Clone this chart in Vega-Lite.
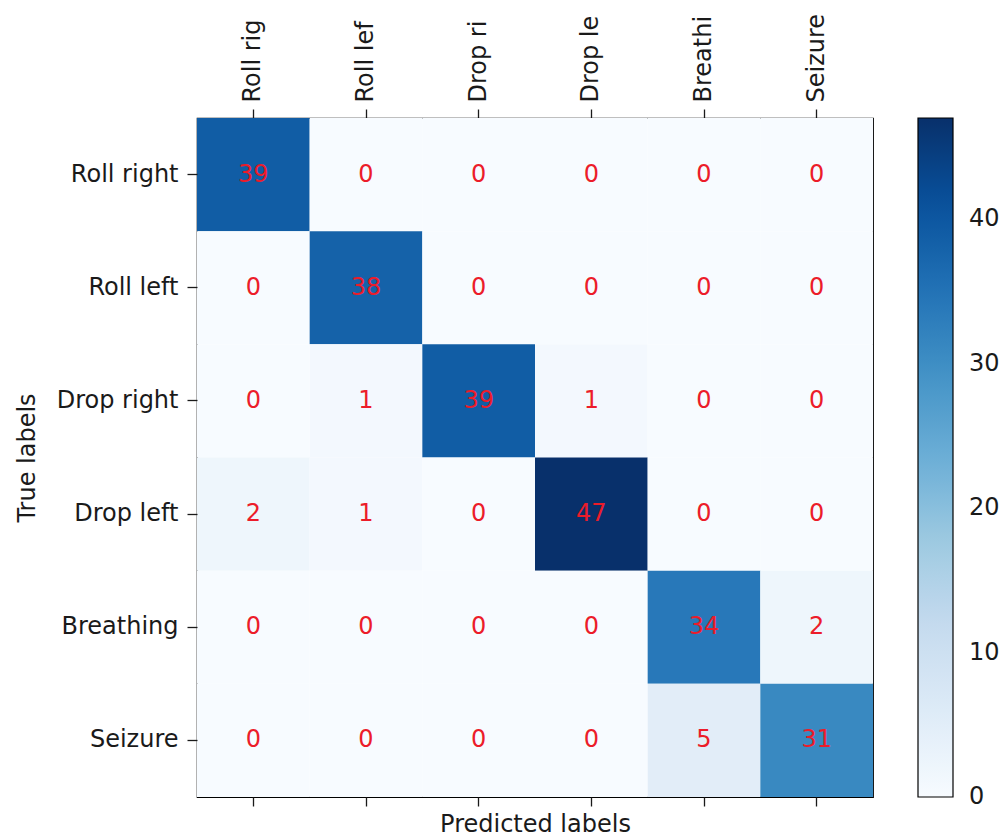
{
  "$schema": "https://vega.github.io/schema/vega-lite/v6.json",
  "autosize": "none",
  "width": 676,
  "height": 679,
  "padding": {"left": 197, "top": 118, "right": 129, "bottom": 40},
  "background": "white",
  "config": {
    "view": {"stroke": "black", "strokeWidth": 1.2},
    "font": "DejaVu Sans",
    "axis": {
      "labelFont": "DejaVu Sans",
      "titleFont": "DejaVu Sans",
      "labelFontSize": 24,
      "titleFontSize": 24,
      "titleFontWeight": "normal",
      "labelColor": "#1a1a1a",
      "titleColor": "#1a1a1a",
      "tickColor": "#1a1a1a",
      "tickSize": 9,
      "tickWidth": 1.3,
      "domain": false,
      "grid": false
    },
    "legend": {
      "labelFont": "DejaVu Sans",
      "labelFontSize": 24,
      "labelColor": "#1a1a1a"
    }
  },
  "data": {
    "values": [
      {"actual": "Roll right", "predicted": "Roll right", "value": 39},
      {"actual": "Roll right", "predicted": "Roll left", "value": 0},
      {"actual": "Roll right", "predicted": "Drop right", "value": 0},
      {"actual": "Roll right", "predicted": "Drop left", "value": 0},
      {"actual": "Roll right", "predicted": "Breathing", "value": 0},
      {"actual": "Roll right", "predicted": "Seizure", "value": 0},
      {"actual": "Roll left", "predicted": "Roll right", "value": 0},
      {"actual": "Roll left", "predicted": "Roll left", "value": 38},
      {"actual": "Roll left", "predicted": "Drop right", "value": 0},
      {"actual": "Roll left", "predicted": "Drop left", "value": 0},
      {"actual": "Roll left", "predicted": "Breathing", "value": 0},
      {"actual": "Roll left", "predicted": "Seizure", "value": 0},
      {"actual": "Drop right", "predicted": "Roll right", "value": 0},
      {"actual": "Drop right", "predicted": "Roll left", "value": 1},
      {"actual": "Drop right", "predicted": "Drop right", "value": 39},
      {"actual": "Drop right", "predicted": "Drop left", "value": 1},
      {"actual": "Drop right", "predicted": "Breathing", "value": 0},
      {"actual": "Drop right", "predicted": "Seizure", "value": 0},
      {"actual": "Drop left", "predicted": "Roll right", "value": 2},
      {"actual": "Drop left", "predicted": "Roll left", "value": 1},
      {"actual": "Drop left", "predicted": "Drop right", "value": 0},
      {"actual": "Drop left", "predicted": "Drop left", "value": 47},
      {"actual": "Drop left", "predicted": "Breathing", "value": 0},
      {"actual": "Drop left", "predicted": "Seizure", "value": 0},
      {"actual": "Breathing", "predicted": "Roll right", "value": 0},
      {"actual": "Breathing", "predicted": "Roll left", "value": 0},
      {"actual": "Breathing", "predicted": "Drop right", "value": 0},
      {"actual": "Breathing", "predicted": "Drop left", "value": 0},
      {"actual": "Breathing", "predicted": "Breathing", "value": 34},
      {"actual": "Breathing", "predicted": "Seizure", "value": 2},
      {"actual": "Seizure", "predicted": "Roll right", "value": 0},
      {"actual": "Seizure", "predicted": "Roll left", "value": 0},
      {"actual": "Seizure", "predicted": "Drop right", "value": 0},
      {"actual": "Seizure", "predicted": "Drop left", "value": 0},
      {"actual": "Seizure", "predicted": "Breathing", "value": 5},
      {"actual": "Seizure", "predicted": "Seizure", "value": 31}
    ]
  },
  "encoding": {
    "y": {
      "field": "actual",
      "type": "nominal",
      "sort": ["Roll right", "Roll left", "Drop right", "Drop left", "Breathing", "Seizure"],
      "scale": {"paddingInner": 0, "paddingOuter": 0},
      "axis": {"title": "True labels", "tickSize": 10, "labelPadding": 9, "titlePadding": 17}
    }
  },
  "layer": [
    {
      "mark": {"type": "rect"},
      "encoding": {
        "x": {
          "field": "predicted",
          "type": "nominal",
          "sort": ["Roll right", "Roll left", "Drop right", "Drop left", "Breathing", "Seizure"],
          "scale": {"paddingInner": 0, "paddingOuter": 0},
          "axis": {"orient": "bottom", "labels": false, "title": "Predicted labels", "titlePadding": 6}
        },
        "color": {
          "field": "value",
          "type": "quantitative",
          "scale": {
            "domain": [0, 5.875, 11.75, 17.625, 23.5, 29.375, 35.25, 41.125, 47],
            "range": ["#f7fbff", "#deebf7", "#c6dbef", "#9ecae1", "#6baed6", "#4292c6", "#2171b5", "#08519c", "#08306b"],
            "interpolate": "rgb"
          },
          "legend": {
            "title": null,
            "orient": "none",
            "legendX": 721,
            "legendY": 0,
            "direction": "vertical",
            "gradientLength": 679,
            "gradientThickness": 35,
            "gradientStrokeColor": "black",
            "gradientStrokeWidth": 1.2,
            "values": [0, 10, 20, 30, 40],
            "labelOffset": 16,
            "labelBaseline": "middle",
            "encode": {"labels": {"update": {"baseline": {"value": "middle"}}}}
          }
        }
      }
    },
    {
      "mark": {"type": "text", "fontSize": 24, "font": "DejaVu Sans", "color": "#ec1c2a", "align": "center", "baseline": "middle"},
      "encoding": {
        "x": {
          "field": "predicted",
          "type": "nominal",
          "sort": ["Roll right", "Roll left", "Drop right", "Drop left", "Breathing", "Seizure"],
          "scale": {"paddingInner": 0, "paddingOuter": 0},
          "axis": {
            "orient": "top",
            "title": null,
            "labelAngle": 270,
            "labelAlign": "left",
            "labelBaseline": "middle",
            "labelPadding": 7,
            "labelLimit": 0,
            "labelExpr": "slice(datum.label, 0, indexof(datum.label, 'Roll') == 0 ? 8 : 7)"
          }
        },
        "text": {"field": "value", "type": "quantitative"}
      }
    }
  ],
  "resolve": {"axis": {"x": "independent"}}
}
